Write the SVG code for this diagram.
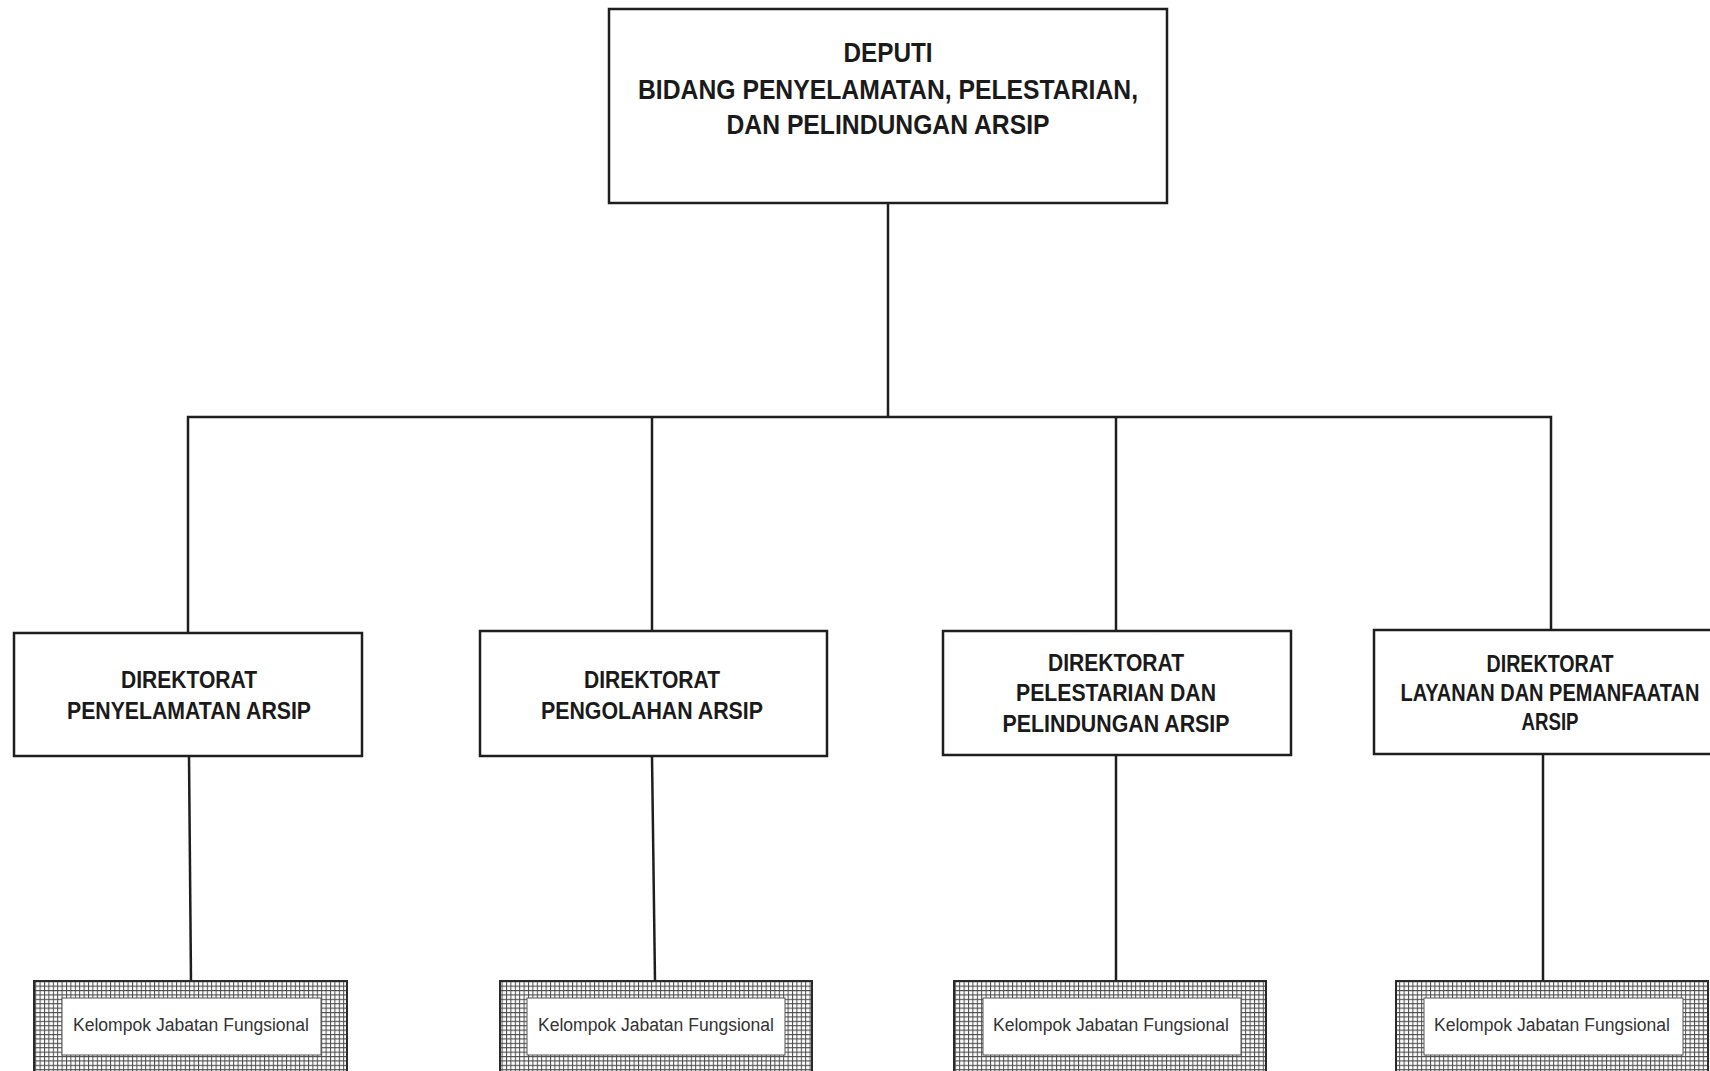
<svg xmlns="http://www.w3.org/2000/svg" width="1710" height="1071" viewBox="0 0 1710 1071">
<defs>
<pattern id="grid" width="4.4" height="4.4" patternUnits="userSpaceOnUse">
<rect width="4.4" height="4.4" fill="#ffffff"/>
<path d="M0 0.5 H4.4 M0.5 0 V4.4" stroke="#4a4a4a" stroke-width="1" fill="none"/>
</pattern>
</defs>
<style>
.box{fill:#ffffff;stroke:#1e1e1e;stroke-width:2.5}
.t{font-family:"Liberation Sans",Arial,sans-serif;font-weight:bold;fill:#1a1a1a;text-anchor:middle}
.top{font-size:28px}
.dir{font-size:23px}
.k{font-family:"Liberation Sans",Arial,sans-serif;font-size:18px;fill:#333333;text-anchor:middle}
.hatch{fill:url(#grid);stroke:#2a2a2a;stroke-width:2}
.inner{fill:#ffffff;stroke:#555555;stroke-width:1}
.c{stroke:#1e1e1e;stroke-width:2.5;fill:none}
</style>
<rect width="1710" height="1071" fill="#ffffff"/>
<g id="connectors">
<path class="c" d="M888 203 V417"/>
<path class="c" d="M188 633 V417 H1551 V631"/>
<path class="c" d="M652 417 V631"/>
<path class="c" d="M1116 417 V631"/>
<path class="c" d="M189 756 L191 981"/>
<path class="c" d="M652 756 L655 981"/>
<path class="c" d="M1116 755 V981"/>
<path class="c" d="M1543 754 V981"/>
</g>
<g id="deputi">
<rect class="box" x="609" y="9" width="558" height="194"/>
<text class="t top" x="888" y="62" textLength="89" lengthAdjust="spacingAndGlyphs">DEPUTI</text>
<text class="t top" x="888" y="99" textLength="500" lengthAdjust="spacingAndGlyphs">BIDANG PENYELAMATAN, PELESTARIAN,</text>
<text class="t top" x="888" y="134" textLength="323" lengthAdjust="spacingAndGlyphs">DAN PELINDUNGAN ARSIP</text>
</g>
<g id="dir1">
<rect class="box" x="14" y="633" width="348" height="123"/>
<text class="t dir" x="189" y="688" textLength="136" lengthAdjust="spacingAndGlyphs">DIREKTORAT</text>
<text class="t dir" x="189" y="719" textLength="244" lengthAdjust="spacingAndGlyphs">PENYELAMATAN ARSIP</text>
</g>
<g id="dir2">
<rect class="box" x="480" y="631" width="347" height="125"/>
<text class="t dir" x="652" y="688" textLength="136" lengthAdjust="spacingAndGlyphs">DIREKTORAT</text>
<text class="t dir" x="652" y="719" textLength="222" lengthAdjust="spacingAndGlyphs">PENGOLAHAN ARSIP</text>
</g>
<g id="dir3">
<rect class="box" x="943" y="631" width="348" height="124"/>
<text class="t dir" x="1116" y="671" textLength="136" lengthAdjust="spacingAndGlyphs">DIREKTORAT</text>
<text class="t dir" x="1116" y="701" textLength="200" lengthAdjust="spacingAndGlyphs">PELESTARIAN DAN</text>
<text class="t dir" x="1116" y="732" textLength="227" lengthAdjust="spacingAndGlyphs">PELINDUNGAN ARSIP</text>
</g>
<g id="dir4">
<rect class="box" x="1374" y="630" width="337.5" height="124"/>
<text class="t dir" x="1550" y="672" textLength="127" lengthAdjust="spacingAndGlyphs">DIREKTORAT</text>
<text class="t dir" transform="translate(1550 701) scale(0.87 1)" x="0" y="0">LAYANAN DAN PEMANFAATAN</text>
<text class="t dir" x="1550" y="730" textLength="57" lengthAdjust="spacingAndGlyphs">ARSIP</text>
</g>
<g id="jf1">
<rect class="hatch" x="34" y="981" width="313" height="95"/>
<rect class="inner" x="62" y="998" width="259" height="57"/>
<text class="k" x="191" y="1031" textLength="236" lengthAdjust="spacingAndGlyphs">Kelompok Jabatan Fungsional</text>
</g>
<g id="jf2">
<rect class="hatch" x="500" y="981" width="312" height="95"/>
<rect class="inner" x="527" y="998" width="258" height="57"/>
<text class="k" x="656" y="1031" textLength="236" lengthAdjust="spacingAndGlyphs">Kelompok Jabatan Fungsional</text>
</g>
<g id="jf3">
<rect class="hatch" x="954" y="981" width="312" height="95"/>
<rect class="inner" x="983" y="998" width="258" height="57"/>
<text class="k" x="1111" y="1031" textLength="236" lengthAdjust="spacingAndGlyphs">Kelompok Jabatan Fungsional</text>
</g>
<g id="jf4">
<rect class="hatch" x="1396" y="981" width="312" height="95"/>
<rect class="inner" x="1424" y="998" width="259" height="57"/>
<text class="k" x="1552" y="1031" textLength="236" lengthAdjust="spacingAndGlyphs">Kelompok Jabatan Fungsional</text>
</g>
</svg>
